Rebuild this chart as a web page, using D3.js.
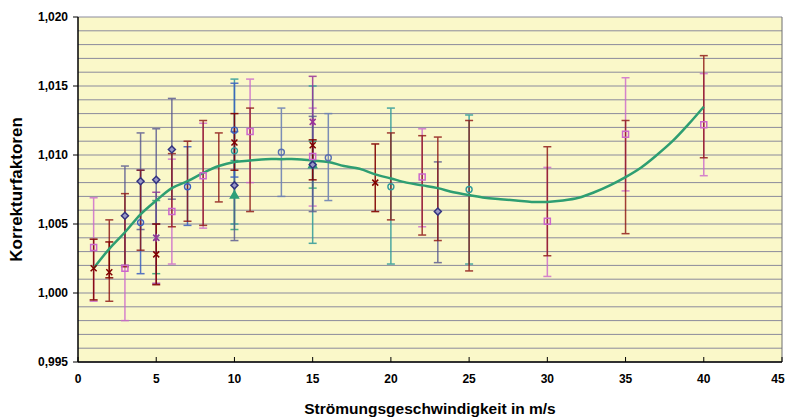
<!DOCTYPE html>
<html>
<head>
<meta charset="utf-8">
<script src="https://cdn.jsdelivr.net/npm/d3@7"></script>
<style>
    body { margin: 0; background: #fff; }
    text { font-family: Arial, "Liberation Sans", sans-serif; font-weight: bold; fill: #000; }
</style>
</head>
<body>
<div id="chart"></div>
<script>
// messwerte: [x, y, untere grenze, obere grenze]
var kreuz_rot = [
    [1, 1.0018, 0.9995, 1.0039],
    [2, 1.0015, 1.0011, 1.0037],
    [5, 1.0028, 1.0006, 1.0050],
    [10, 1.0109, 1.0089, 1.0130],
    [15, 1.0107, 1.0082, 1.0111],
    [19, 1.0080, 1.0059, 1.0108]
]
var quadrat_rosa = [
    [1, 1.0033, 0.9994, 1.0069],
    [3, 1.0018, 0.9980, 1.0056],
    [6, 1.0059, 1.0021, 1.0097],
    [8, 1.0085, 1.0047, 1.0123],
    [11, 1.0117, 1.0080, 1.0155],
    [15, 1.0099, 1.0063, 1.0134],
    [22, 1.0084, 1.0048, 1.0119],
    [30, 1.0052, 1.0012, 1.0091],
    [35, 1.0115, 1.0074, 1.0156],
    [40, 1.0122, 1.0085, 1.0159]
]
var kreis_blau = [
    [4, 1.0051, 1.0014, 1.0089],
    [7, 1.0077, 1.0049, 1.0106],
    [10, 1.0118, 1.0084, 1.0152]
]
var kreis_grau = [
    [13, 1.0102, 1.0070, 1.0134],
    [16, 1.0098, 1.0067, 1.0130]
]
var raute_dunkel = [
    [3, 1.0056, 1.0020, 1.0092],
    [4, 1.0081, 1.0046, 1.0116],
    [5, 1.0082, 1.0050, 1.0119],
    [6, 1.0104, 1.0068, 1.0141],
    [10, 1.0078, 1.0038, 1.0117],
    [15, 1.0093, 1.0059, 1.0128],
    [23, 1.0059, 1.0022, 1.0095]
]
var kreis_tuerkis = [
    [10, 1.0103, 1.0050, 1.0155],
    [15, 1.0093, 1.0036, 1.0150],
    [20, 1.0077, 1.0021, 1.0134],
    [25, 1.0075, 1.0021, 1.0129]
]
var dreieck_gruen = [
    [10, 1.0071, 1.0046, 1.0096],
    [15, 1.0093, 1.0076, 1.0110]
]
var kreuz_tuerkis = [
    [5, 1.0040, 1.0014, 1.0067]
]
var stern_lila = [
    [5, 1.0040, 1.0007, 1.0073],
    [15, 1.0124, 1.0091, 1.0157]
]
// fehlerbalken ohne sichtbare marker: [x, untere grenze, obere grenze]
var ohne_marker = [
    [2, 0.9994, 1.0053],
    [3, 1.0019, 1.0072],
    [4, 1.0031, 1.0089],
    [6, 1.0048, 1.0101],
    [7, 1.0052, 1.0110],
    [8, 1.0049, 1.0125],
    [9, 1.0066, 1.0116],
    [11, 1.0059, 1.0134],
    [20, 1.0053, 1.0116],
    [22, 1.0042, 1.0114],
    [23, 1.0038, 1.0113],
    [25, 1.0016, 1.0125],
    [30, 1.0027, 1.0106],
    [35, 1.0043, 1.0125],
    [40, 1.0098, 1.0172]
]
// ausgleichskurve
var trend_x = [1, 2, 3, 4, 5, 6, 7, 8, 9, 10, 11, 12, 13, 14, 15, 16, 17, 18, 19, 20,
    21, 22, 23, 24, 25, 26, 27, 28, 29, 30, 31, 32, 33, 34, 35, 36, 37, 38, 39, 40]
var trend_y = [1.0018, 1.0032, 1.0044, 1.0057, 1.0067, 1.0076, 1.0081, 1.0087, 1.0092, 1.0095,
    1.0096, 1.0097, 1.0097, 1.0097, 1.0096, 1.0095, 1.0092, 1.0090, 1.0086, 1.0083,
    1.0080, 1.0078, 1.0076, 1.0073, 1.0071, 1.0069, 1.0068, 1.0067, 1.0066, 1.0066,
    1.0067, 1.0069, 1.0073, 1.0078, 1.0084, 1.0091, 1.0100, 1.0110, 1.0122, 1.0135]
var x_ticks = [0, 5, 10, 15, 20, 25, 30, 35, 40, 45]
var y_ticks = [0.995, 1.000, 1.005, 1.010, 1.015, 1.020]

var width = 787, height = 419
var plot_l = 78, plot_r = 782, plot_t = 17, plot_b = 362

var x = d3.scaleLinear().domain([0, 45]).range([plot_l, plot_r])
var y = d3.scaleLinear().domain([0.995, 1.020]).range([plot_b, plot_t])
var fmt = v => d3.format('.3f')(v).replace('.', ',')

var svg = d3.select('#chart')
    .append('svg')
    .attr('width', width)
    .attr('height', height)

svg.append('rect')
    .attr('x', plot_l).attr('y', plot_t)
    .attr('width', plot_r - plot_l).attr('height', plot_b - plot_t)
    .attr('fill', '#faf8c9')

// gitterlinien alle 0,001
svg.append('g')
    .selectAll('line')
    .data(d3.range(0, 26).map(i => 0.995 + i * 0.001))
    .enter()
    .append('line')
    .attr('x1', plot_l).attr('x2', plot_r)
    .attr('y1', d => y(d)).attr('y2', d => y(d))
    .attr('stroke', '#8a8a9c')
    .attr('stroke-width', 1)

svg.append('line')
    .attr('x1', plot_r).attr('x2', plot_r)
    .attr('y1', plot_t).attr('y2', plot_b)
    .attr('stroke', '#6e6e6e')

var draw_bars = (data, color, opacity) => {
    var g = svg.append('g')
        .attr('stroke', color)
        .attr('stroke-width', 1.5)
        .attr('opacity', opacity)
    var sel = g.selectAll('g').data(data).enter().append('g')
    sel.append('line')
        .attr('x1', d => x(d[0])).attr('x2', d => x(d[0]))
        .attr('y1', d => y(d[d.length - 2])).attr('y2', d => y(d[d.length - 1]))
    sel.append('line')
        .attr('x1', d => x(d[0]) - 4).attr('x2', d => x(d[0]) + 4)
        .attr('y1', d => y(d[d.length - 2])).attr('y2', d => y(d[d.length - 2]))
    sel.append('line')
        .attr('x1', d => x(d[0]) - 4).attr('x2', d => x(d[0]) + 4)
        .attr('y1', d => y(d[d.length - 1])).attr('y2', d => y(d[d.length - 1]))
}

draw_bars(quadrat_rosa, '#cc66cc', 0.8)
draw_bars(kreis_tuerkis, '#2e9a9a', 0.85)
draw_bars(dreieck_gruen, '#2ea07a', 0.85)
draw_bars(kreuz_tuerkis, '#2ea07a', 0.85)
draw_bars(stern_lila, '#993399', 0.85)
draw_bars(raute_dunkel, '#55558f', 0.8)
draw_bars(kreis_grau, '#6f83b5', 0.9)
draw_bars(kreis_blau, '#3a5fc0', 0.85)
draw_bars(ohne_marker, '#8b1010', 0.8)
draw_bars(kreuz_rot, '#800000', 0.9)

// kurve
var line = d3.line()
    .x(d => x(d[0]))
    .y(d => y(d[1]))
    .curve(d3.curveCatmullRom)

svg.append('path')
    .datum(trend_x.map((v, i) => [v, trend_y[i]]))
    .attr('d', line)
    .attr('fill', 'none')
    .attr('stroke', '#2e9e72')
    .attr('stroke-width', 2.5)

// marker
var shapes = {
    kreuz: 'M-3,-3L3,3M-3,3L3,-3',
    quadrat: 'M-3,-3H3V3H-3Z',
    raute: 'M0,-3.5L3.5,0L0,3.5L-3.5,0Z',
    dreieck: 'M0,-4L4,3H-4Z',
    stern: 'M-3,-3L3,3M-3,3L3,-3M0,-4V4'
}

var draw_marker = (data, kind, color, fill) => {
    var sel = svg.append('g')
        .selectAll('.m')
        .data(data)
        .enter()
    if (kind == 'kreis') {
        sel.append('circle')
            .attr('cx', d => x(d[0])).attr('cy', d => y(d[1]))
            .attr('r', 3)
            .attr('fill', fill).attr('stroke', color).attr('stroke-width', 1.4)
    } else {
        sel.append('path')
            .attr('transform', d => `translate(${x(d[0])},${y(d[1])})`)
            .attr('d', shapes[kind])
            .attr('fill', fill).attr('stroke', color).attr('stroke-width', 1.5)
    }
}

draw_marker(kreis_tuerkis, 'kreis', '#2e9a9a', 'none')
draw_marker(dreieck_gruen, 'dreieck', '#2ea07a', '#2ea07a')
draw_marker(raute_dunkel, 'raute', '#333380', '#9a9ac8')
draw_marker(kreis_grau, 'kreis', '#5a70b0', 'none')
draw_marker(kreis_blau, 'kreis', '#3a5fc0', 'none')
draw_marker(quadrat_rosa, 'quadrat', '#cc66cc', 'none')
draw_marker(kreuz_tuerkis, 'kreuz', '#2ea0a0', 'none')
draw_marker(stern_lila, 'stern', '#993399', 'none')
draw_marker(kreuz_rot, 'kreuz', '#800000', 'none')

// achsen
svg.append('line')
    .attr('x1', plot_l).attr('x2', plot_l)
    .attr('y1', plot_t).attr('y2', plot_b)
    .attr('stroke', '#000').attr('stroke-width', 1.5)
svg.append('line')
    .attr('x1', plot_l).attr('x2', plot_r)
    .attr('y1', plot_b).attr('y2', plot_b)
    .attr('stroke', '#000').attr('stroke-width', 1.5)

svg.append('g')
    .selectAll('line')
    .data(y_ticks)
    .enter()
    .append('line')
    .attr('x1', plot_l - 5).attr('x2', plot_l)
    .attr('y1', d => y(d)).attr('y2', d => y(d))
    .attr('stroke', '#000')

svg.append('g')
    .selectAll('line')
    .data(x_ticks)
    .enter()
    .append('line')
    .attr('x1', d => x(d)).attr('x2', d => x(d))
    .attr('y1', plot_b - 5).attr('y2', plot_b)
    .attr('stroke', '#000')

svg.append('g')
    .selectAll('text')
    .data(y_ticks)
    .enter()
    .append('text')
    .attr('x', plot_l - 10)
    .attr('y', d => y(d) + 4)
    .attr('text-anchor', 'end')
    .style('font-size', '12px')
    .text(fmt)

svg.append('g')
    .selectAll('text')
    .data(x_ticks)
    .enter()
    .append('text')
    .attr('x', d => Math.min(x(d), width - 9))
    .attr('y', 383)
    .attr('text-anchor', 'middle')
    .style('font-size', '12px')
    .text(d => d)

svg.append('text')
    .attr('x', (plot_l + plot_r) / 2)
    .attr('y', 414)
    .attr('text-anchor', 'middle')
    .style('font-size', '15.5px')
    .text('Strömungsgeschwindigkeit in m/s')

svg.append('text')
    .attr('transform', `translate(22,${(plot_t + plot_b) / 2}) rotate(-90)`)
    .attr('text-anchor', 'middle')
    .style('font-size', '17px')
    .text('Korrekturfaktoren')
</script>
</body>
</html>
